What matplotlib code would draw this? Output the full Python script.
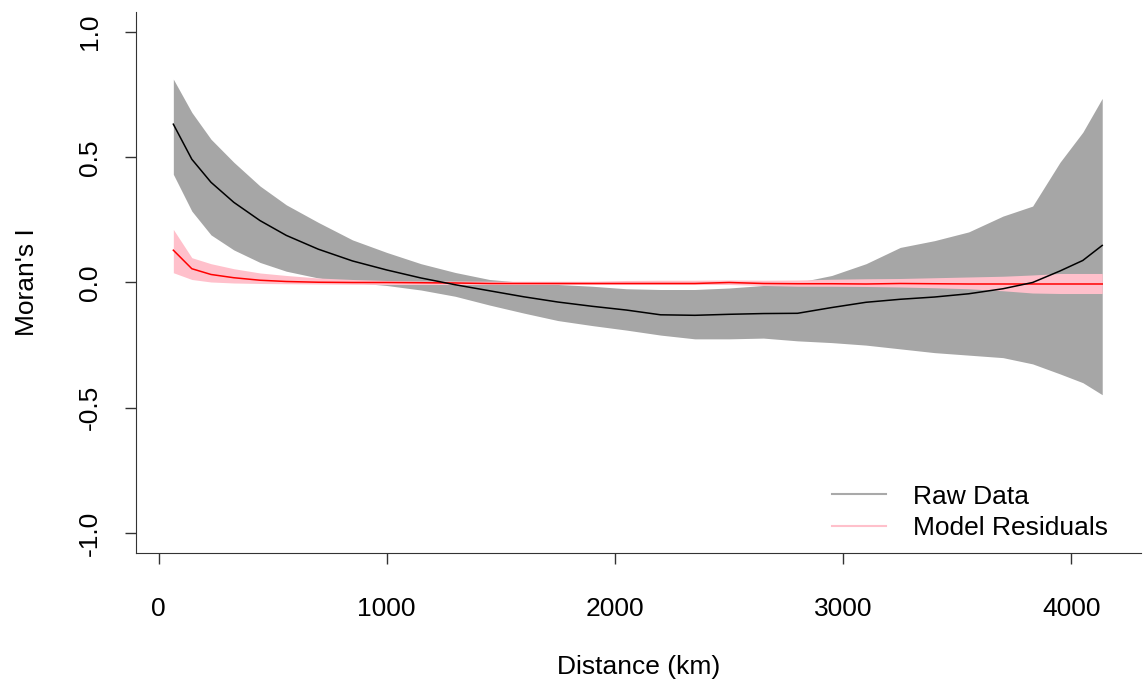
import numpy as np
import matplotlib
matplotlib.use("Agg")
import matplotlib.pyplot as plt
from matplotlib.ticker import FormatStrFormatter

plt.rcParams['font.family'] = ['Liberation Sans', 'DejaVu Sans']
plt.rcParams['axes.unicode_minus'] = False

# distance classes (km)
dist = [65, 146, 230, 330, 445, 560, 700, 850, 1000, 1150, 1300, 1450, 1600,
        1750, 1900, 2050, 2200, 2350, 2500, 2650, 2800, 2950, 3100, 3250,
        3400, 3550, 3700, 3830, 3950, 4050, 4135]

# Moran's I of the raw data, with confidence band
raw_mean = [0.632, 0.492, 0.400, 0.320, 0.247, 0.188, 0.133, 0.086, 0.050,
            0.018, -0.009, -0.033, -0.057, -0.078, -0.095, -0.110, -0.129,
            -0.131, -0.127, -0.124, -0.123, -0.100, -0.079, -0.067, -0.058,
            -0.045, -0.025, 0.000, 0.046, 0.088, 0.148]
raw_hi = [0.812, 0.679, 0.572, 0.480, 0.385, 0.310, 0.240, 0.170, 0.120,
          0.075, 0.040, 0.012, 0.000, -0.008, -0.015, -0.025, -0.028, -0.028,
          -0.022, -0.012, 0.000, 0.028, 0.075, 0.140, 0.167, 0.202, 0.265,
          0.305, 0.480, 0.600, 0.735]
raw_lo = [0.432, 0.285, 0.190, 0.130, 0.080, 0.045, 0.018, 0.000, -0.012,
          -0.030, -0.055, -0.090, -0.122, -0.152, -0.172, -0.190, -0.210,
          -0.225, -0.225, -0.222, -0.233, -0.240, -0.250, -0.265, -0.280,
          -0.290, -0.300, -0.325, -0.365, -0.400, -0.448]

# Moran's I of the model residuals, with confidence band
res_mean = [0.129, 0.055, 0.032, 0.019, 0.009, 0.004, 0.001, 0.000, 0.000,
            -0.001, -0.002, -0.004, -0.004, -0.004, -0.004, -0.004, -0.004,
            -0.004, 0.000, -0.004, -0.005, -0.005, -0.006, -0.004, -0.005,
            -0.006, -0.006, -0.006, -0.006, -0.006, -0.006]
res_hi = [0.212, 0.099, 0.075, 0.055, 0.038, 0.028, 0.018, 0.012, 0.008,
          0.006, 0.006, 0.005, 0.005, 0.005, 0.005, 0.008, 0.009, 0.009,
          0.010, 0.009, 0.010, 0.013, 0.015, 0.016, 0.019, 0.022, 0.025,
          0.030, 0.036, 0.036, 0.036]
res_lo = [0.039, 0.012, 0.002, -0.002, -0.004, -0.005, -0.006, -0.007,
          -0.008, -0.008, -0.008, -0.008, -0.008, -0.008, -0.008, -0.008,
          -0.008, -0.008, -0.008, -0.012, -0.015, -0.015, -0.016, -0.018,
          -0.021, -0.025, -0.033, -0.042, -0.044, -0.044, -0.044]

fig = plt.figure(figsize=(11.44, 6.84), dpi=100)
ax = fig.add_axes([0.119, 0.1915, 0.878, 0.7910])

ax.fill_between(dist, raw_lo, raw_hi, color='#A6A6A6', linewidth=0)
ax.fill_between(dist, res_lo, res_hi, color='#FFC0CB', linewidth=0)
ax.plot(dist, res_mean, color='red', linewidth=1.1)
ax.plot(dist, raw_mean, color='black', linewidth=1.1)

# legend handles only
ax.plot([], [], color='darkgray', linewidth=1.5, label='Raw Data')
ax.plot([], [], color='pink', linewidth=1.5, label='Model Residuals')
ax.legend(loc='lower right', bbox_to_anchor=(0.9776, 0.0037), frameon=False,
          fontsize=19, handlelength=2.05, handletextpad=1.0,
          labelspacing=0.3, borderaxespad=0)

ax.set_xlim(-98, 4303)
ax.set_ylim(-1.08, 1.08)
ax.set_xticks([0, 1000, 2000, 3000, 4000])
ax.set_yticks([-1.0, -0.5, 0.0, 0.5, 1.0])
ax.yaxis.set_major_formatter(FormatStrFormatter('%.1f'))
for lab in ax.get_yticklabels():
    lab.set_rotation(90)
    lab.set_va('center')

ax.spines['top'].set_visible(False)
ax.spines['right'].set_visible(False)
ax.spines['left'].set_color('#333333')
ax.spines['bottom'].set_color('#333333')
ax.tick_params(axis='both', length=8, width=1, color='#333333', labelsize=19)
ax.tick_params(axis='x', pad=24)
ax.tick_params(axis='y', pad=16.5)

ax.set_xlabel('Distance (km)', fontsize=19, labelpad=24)
ax.set_ylabel("Moran's I", fontsize=19, labelpad=28.5)

fig.savefig('out.png', dpi=100)
